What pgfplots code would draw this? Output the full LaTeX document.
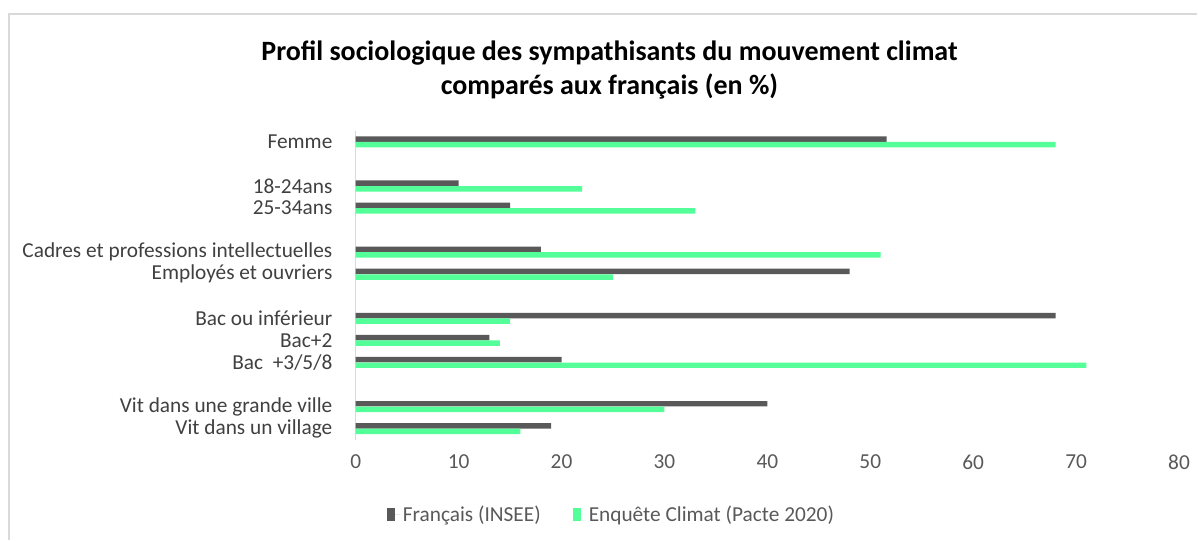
\documentclass[border=0pt]{standalone}
\usepackage{fontspec}
\setmainfont{Carlito}
\usepackage{pgfplots}
\pgfplotsset{compat=1.18}

\definecolor{insee}{RGB}{89,89,89}
\definecolor{climat}{RGB}{84,255,154}
\definecolor{labelgray}{RGB}{64,64,64}
\definecolor{tickgray}{RGB}{89,89,89}
\definecolor{framegray}{RGB}{217,217,217}

% 1 px of the reference = 0.75pt, origin = lower left corner of the axis
\begin{document}
\begin{tikzpicture}[x=1pt,y=1pt]
\begin{axis}[
  scale only axis, width=618pt, height=231.75pt,
  xbar, bar width=4.1pt,
  xmin=0, xmax=80, ymin=-0.5, ymax=13.5,
  axis lines*=left,
  x axis line style={draw=none},
  y axis line style={draw=framegray, line width=1pt},
  major tick length=0pt,
  xtick={0,10,...,80},
  ytick={0,1,3,4,5,7,8,10,11,13},
  yticklabels={Vit dans un village,Vit dans une grande ville,Bac~ +3/5/8,Bac+2,Bac ou inférieur,Employés et ouvriers,Cadres et professions intellectuelles,25-34ans,18-24ans,Femme},
  /pgf/number format/assume math mode=true,
  xticklabel style={font=\fontsize{16}{19}\selectfont, text=tickgray, yshift=-8pt},
  yticklabel style={font=\fontsize{16}{19}\selectfont, text=labelgray, xshift=-14pt},
  legend style={at={(0.311,-0.243)}, anchor=center, draw=none, fill=none,
    legend columns=2, font=\fontsize{16}{19}\selectfont, text=tickgray,
    /tikz/every even column/.append style={column sep=22pt}},
  legend image code/.code={\fill[#1] (0pt,-5pt) rectangle (6pt,5pt); \path (0pt,0pt) -- (10pt,0pt);},
]
\addplot[fill=insee, draw=none, bar shift=2.1pt] coordinates {
  (19,0) (40,1) (20,3) (13,4) (68,5) (48,7) (18,8) (15,10) (10,11) (51.6,13)
};
\addplot[fill=climat, draw=none, bar shift=-2.1pt] coordinates {
  (16,0) (30,1) (71,3) (14,4) (15,5) (25,7) (51,8) (33,10) (22,11) (68,13)
};
\legend{Français (INSEE), Enquête Climat (Pacte 2020)}
\end{axis}
\path (-267,-75) rectangle (631.5,330);
\draw[framegray, line width=1.5pt] (-260.25,-75) -- (-260.25,319.5) -- (631.5,319.5);
\node[align=center, font=\fontsize{21}{25}\selectfont\bfseries, text=black]
  at (190.5,277.5) {Profil sociologique des sympathisants du mouvement climat\\comparés aux français (en \%)};
\end{tikzpicture}
\end{document}
